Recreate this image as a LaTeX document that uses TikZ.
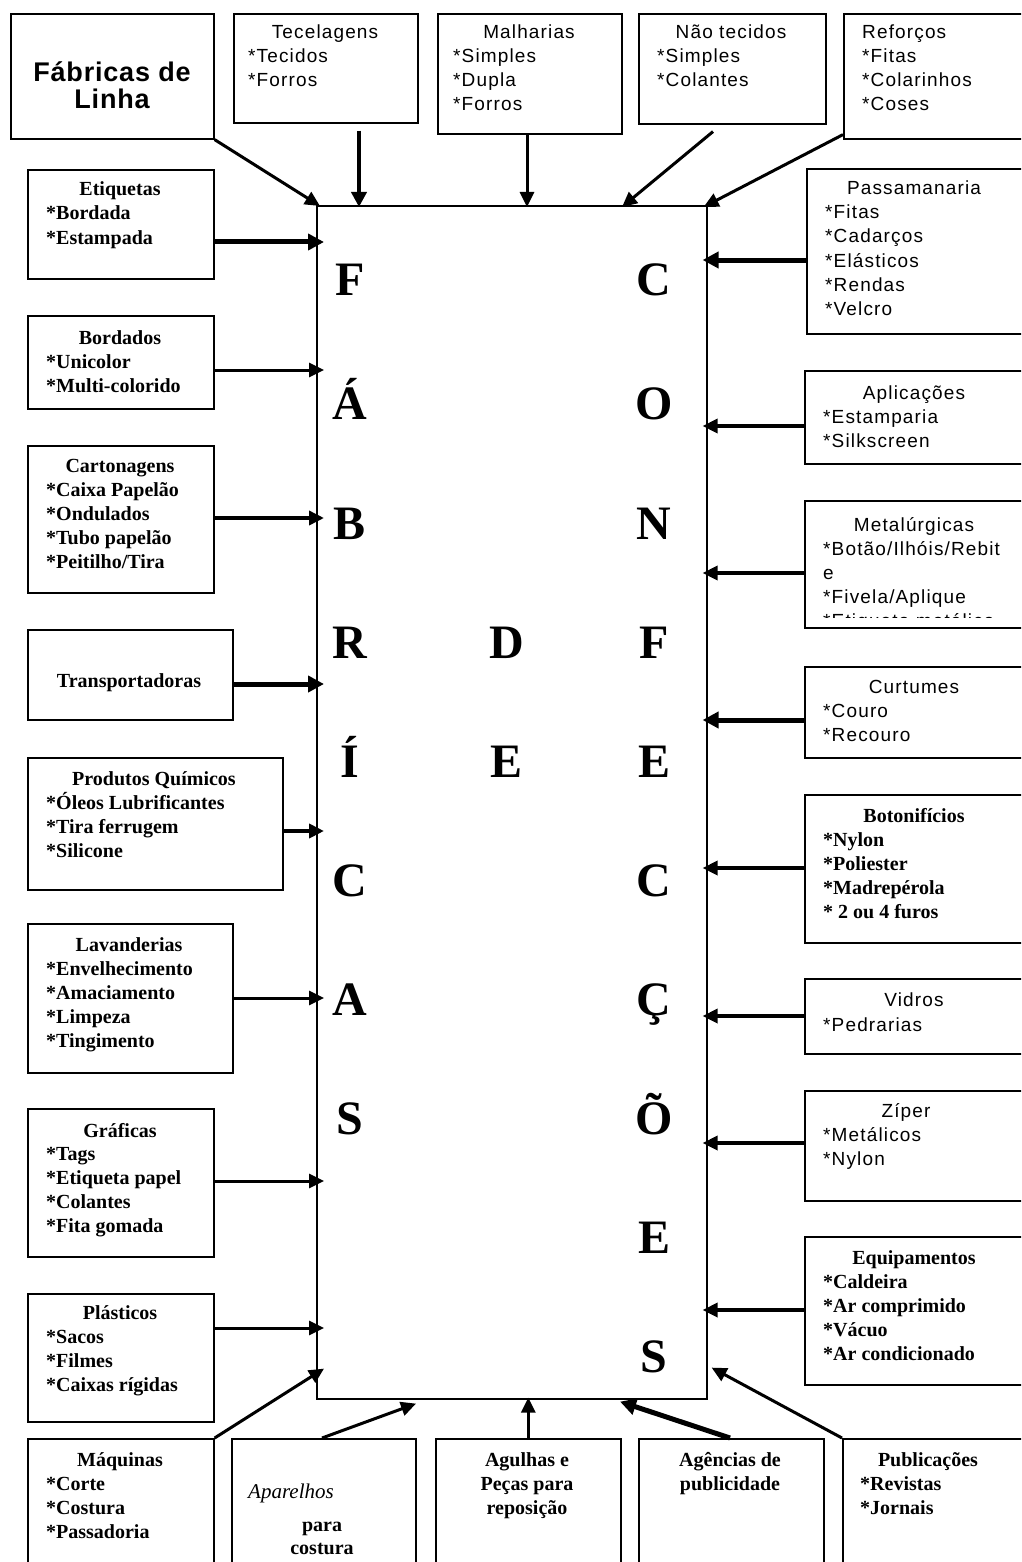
\documentclass[tikz,border=0pt]{standalone}
\usepackage{fontspec}
\setmainfont{Liberation Serif}
\setsansfont{Liberation Sans}
\usetikzlibrary{arrows.meta,calc}
\newcommand\itemlist[5]{\foreach \t [count=\i from 0] in {#5}{\node[#2,anchor=base west] (#1-\i) at (#3,{#4+24*\i}) {\t};}}
\tikzset{
 bx/.style={draw,line width=1.6pt,inner sep=0pt,anchor=north west,fill=white},
 sn/.style={font=\fontsize{19}{24}\selectfont\sffamily\addfontfeature{LetterSpace=6},inner sep=0pt},
 sb/.style={font=\fontsize{20}{24}\selectfont\bfseries,inner sep=0pt},
 bg/.style={font=\fontsize{48}{48}\selectfont\bfseries,inner sep=0pt,anchor=base},
 ar/.style={line width=3pt,-{Triangle[length=15pt,width=14pt]}},
 arm/.style={line width=3.5pt,-{Triangle[length=15pt,width=14pt]}},
 arw/.style={line width=5pt,-{Triangle[length=16pt,width=16pt]}},
}
\begin{document}
\begin{tikzpicture}[x=1pt,y=-1pt]
\useasboundingbox (0,0) rectangle (1021,1562);
\fill[white] (0,0) rectangle (1021,1562);
\clip (0,0) rectangle (1021,1562);

% central rectangle
\node[bx,minimum width=390pt,minimum height=1193pt] (main) at (316,205) {};

% letters
\node[bg] (fa1) at (350,295) {F};
\node[bg] (fa2) at (350,419) {Á};
\node[bg] (fa3) at (350,539) {B};
\node[bg] (fa4) at (350,658) {R};
\node[bg] (fa5) at (350,777) {Í};
\node[bg] (fa6) at (350,896) {C};
\node[bg] (fa7) at (350,1015) {A};
\node[bg] (fa8) at (350,1134) {S};
\node[bg] (de1) at (507,658) {D};
\node[bg] (de2) at (507,777) {E};
\node[bg] (co1) at (654,295) {C};
\node[bg] (co2) at (654,419) {O};
\node[bg] (co3) at (654,539) {N};
\node[bg] (co4) at (654,658) {F};
\node[bg] (co5) at (654,777) {E};
\node[bg] (co6) at (654,896) {C};
\node[bg] (co7) at (654,1015) {Ç};
\node[bg] (co8) at (654,1134) {Õ};
\node[bg] (co9) at (654,1253) {E};
\node[bg] (co10) at (654,1372) {S};

% ---- top row
\node[bx,minimum width=203pt,minimum height=125pt] (fab) at (10,13) {};
\node[font=\fontsize{27}{27}\selectfont\sffamily\bfseries\addfontfeature{LetterSpace=3},inner sep=0pt,anchor=base] (fab-a) at (112,82) {Fábricas de};
\node[font=\fontsize{27}{27}\selectfont\sffamily\bfseries\addfontfeature{LetterSpace=3},inner sep=0pt,anchor=base] (fab-b) at (112,109) {Linha};

\node[bx,minimum width=184pt,minimum height=109pt] (tec) at (233,13) {};
\node[sn,anchor=base] (tec-t) at (325,39) {Tecelagens};
\itemlist{tec}{sn}{248}{63}{*Tecidos,*Forros}

\node[bx,minimum width=184pt,minimum height=120pt] (mal) at (437,13) {};
\node[sn,anchor=base] (mal-t) at (529,39) {Malharias};
\itemlist{mal}{sn}{453}{63}{*Simples,*Dupla,*Forros}

\node[bx,minimum width=187pt,minimum height=110pt] (nao) at (638,13) {};
\node[sn,anchor=base] (nao-t) at (731,39) {Não tecidos};
\itemlist{nao}{sn}{657}{63}{*Simples,*Colantes}

\node[bx,minimum width=200pt,minimum height=125pt] (ref) at (843,13) {};
\node[sn,anchor=base west] (ref-t) at (862,39) {Reforços};
\itemlist{ref}{sn}{862}{63}{*Fitas,*Colarinhos,*Coses}

% ---- left column
\node[bx,minimum width=186pt,minimum height=109pt] (etq) at (27,169) {};
\node[sb,anchor=base] (etq-t) at (120,196) {Etiquetas};
\itemlist{etq}{sb}{46}{220}{*Bordada,*Estampada}

\node[bx,minimum width=186pt,minimum height=93pt] (bor) at (27,315) {};
\node[sb,anchor=base] (bor-t) at (120,344) {Bordados};
\itemlist{bor}{sb}{46}{368}{*Unicolor,*Multi-colorido}

\node[bx,minimum width=186pt,minimum height=147pt] (car) at (27,445) {};
\node[sb,anchor=base] (car-t) at (120,472) {Cartonagens};
\itemlist{car}{sb}{46}{496}{*Caixa Papelão,*Ondulados,*Tubo papelão,*Peitilho/Tira}

\node[bx,minimum width=205pt,minimum height=90pt] (tra) at (27,629) {};
\node[sb,anchor=base] (tra-t) at (129,687) {Transportadoras};

\node[bx,minimum width=255pt,minimum height=132pt] (pro) at (27,757) {};
\node[sb,anchor=base] (pro-t) at (154,785) {Produtos Químicos};
\itemlist{pro}{sb}{46}{809}{*Óleos Lubrificantes,*Tira ferrugem,*Silicone}

\node[bx,minimum width=205pt,minimum height=149pt] (lav) at (27,923) {};
\node[sb,anchor=base] (lav-t) at (129,951) {Lavanderias};
\itemlist{lav}{sb}{46}{975}{*Envelhecimento,*Amaciamento,*Limpeza,*Tingimento}

\node[bx,minimum width=186pt,minimum height=148pt] (gra) at (27,1108) {};
\node[sb,anchor=base] (gra-t) at (120,1137) {Gráficas};
\itemlist{gra}{sb}{46}{1160}{*Tags,*Etiqueta papel,*Colantes,*Fita gomada}

\node[bx,minimum width=186pt,minimum height=128pt] (pla) at (27,1293) {};
\node[sb,anchor=base] (pla-t) at (120,1319) {Plásticos};
\itemlist{pla}{sb}{46}{1343}{*Sacos,*Filmes,*Caixas rígidas}

% ---- bottom row
\node[bx,minimum width=186pt,minimum height=200pt] (maq) at (27,1438) {};
\node[sb,anchor=base] (maq-t) at (120,1466) {Máquinas};
\itemlist{maq}{sb}{46}{1490}{*Corte,*Costura,*Passadoria}

\node[bx,minimum width=184pt,minimum height=200pt] (apa) at (231,1438) {};
\node[font=\fontsize{21}{24}\selectfont\itshape,inner sep=0pt,anchor=base west] (apa-a) at (248,1498) {Aparelhos};
\node[sb,anchor=base] (apa-b) at (322,1531) {para};
\node[sb,anchor=base] (apa-c) at (322,1554) {costura};

\node[bx,minimum width=185pt,minimum height=200pt] (agu) at (435,1438) {};
\node[sb,anchor=base] (agu-a) at (527,1466) {Agulhas e};
\node[sb,anchor=base] (agu-b) at (527,1490) {Peças para};
\node[sb,anchor=base] (agu-c) at (527,1514) {reposição};

\node[bx,minimum width=185pt,minimum height=200pt] (age) at (638,1438) {};
\node[sb,anchor=base] (age-a) at (730,1466) {Agências de};
\node[sb,anchor=base] (age-b) at (730,1490) {publicidade};

\node[bx,minimum width=200pt,minimum height=200pt] (pub) at (842,1438) {};
\node[sb,anchor=base] (pub-t) at (928,1466) {Publicações};
\itemlist{pub}{sb}{860}{1490}{*Revistas,*Jornais}

% ---- right column
\node[bx,minimum width=230pt,minimum height=165pt] (pas) at (806,168) {};
\node[sn,anchor=base] (pas-t) at (914,195) {Passamanaria};
\itemlist{pas}{sn}{825}{219}{*Fitas,*Cadarços,*Elásticos,*Rendas,*Velcro}

\node[bx,minimum width=230pt,minimum height=93pt] (apl) at (804,370) {};
\node[sn,anchor=base] (apl-t) at (914,399) {Aplicações};
\itemlist{apl}{sn}{823}{423}{*Estamparia,*Silkscreen}

\node[bx,minimum width=230pt,minimum height=127pt] (met) at (804,500) {};
\begin{scope}
\clip (804,500) rectangle (1030,617);
\node[sn,anchor=base] (met-t) at (914,531) {Metalúrgicas};
\itemlist{met}{sn}{823}{555}{*Botão/Ilhóis/Rebit,e,*Fivela/Aplique,*Etiqueta metálica}
\end{scope}

\node[bx,minimum width=230pt,minimum height=91pt] (cur) at (804,666) {};
\node[sn,anchor=base] (cur-t) at (914,693) {Curtumes};
\itemlist{cur}{sn}{823}{717}{*Couro,*Recouro}

\node[bx,minimum width=230pt,minimum height=148pt] (bot) at (804,794) {};
\node[sb,anchor=base] (bot-t) at (914,822) {Botonifícios};
\itemlist{bot}{sb}{823}{846}{*Nylon,*Poliester,*Madrepérola,* 2 ou 4 furos}

\node[bx,minimum width=230pt,minimum height=75pt] (vid) at (804,978) {};
\node[sn,anchor=base] (vid-t) at (914,1006) {Vidros};
\itemlist{vid}{sn}{823}{1031}{*Pedrarias}

\node[bx,minimum width=230pt,minimum height=110pt] (zip) at (804,1090) {};
\node[sn,anchor=base] (zip-t) at (906,1117) {Zíper};
\itemlist{zip}{sn}{823}{1141}{*Metálicos,*Nylon}

\node[bx,minimum width=230pt,minimum height=148pt] (equ) at (804,1236) {};
\node[sb,anchor=base] (equ-t) at (914,1264) {Equipamentos};
\itemlist{equ}{sb}{823}{1288}{*Caldeira,*Ar comprimido,*Vácuo,*Ar condicionado}

% ---- arrows: top
\draw[ar] (fab.south east) -- ($(main.north west)+(4,1)$);
\draw[line width=4pt,-{Triangle[length=15pt,width=15pt]},shorten <=7pt,shorten >=-2pt] (tec.south -| 359,0) -- (main.north -| 359,0);
\draw[ar,shorten >=-2pt] (mal.south -| 527,0) -- (main.north -| 527,0);
\draw[ar] ($(nao.south west)+(75,7)$) -- ($(main.north west)+(306,2)$);
\draw[ar] ($(ref.south west)+(0,-5)$) -- ($(main.north east)+(-4,2)$);

% ---- arrows: left
\draw[arw,shorten >=-8pt] (etq.east |- 0,242) -- (main.west |- 0,242);
\draw[ar,shorten >=-8pt] (bor.east |- 0,370) -- (main.west |- 0,370);
\draw[arm,shorten >=-8pt] (car.east |- 0,518) -- (main.west |- 0,518);
\draw[arw,shorten >=-8pt] (tra.east |- 0,684) -- (main.west |- 0,684);
\draw[line width=4pt,-{Triangle[length=15pt,width=14pt]},shorten >=-8pt] (pro.east |- 0,831) -- (main.west |- 0,831);
\draw[ar,shorten >=-8pt] (lav.east |- 0,998) -- (main.west |- 0,998);
\draw[ar,shorten >=-8pt] (gra.east |- 0,1181) -- (main.west |- 0,1181);
\draw[ar,shorten >=-8pt] (pla.east |- 0,1328) -- (main.west |- 0,1328);

% ---- arrows: bottom
\draw[ar] (maq.north east) -- ($(main.south west)+(8,-31)$);
\draw[ar] ($(apa.north west)+(91,0)$) -- ($(main.south west)+(100,4)$);
\draw[ar,shorten >=-2pt] (agu.north) -- (main.south -| agu.north);
\draw[arw] ($(age.north west)+(92,0)$) -- ($(main.south west)+(304,2)$);
\draw[ar] (pub.north west) -- ($(main.south east)+(4,-32)$);

% ---- arrows: right
\draw[arw,shorten >=-5pt] (pas.west |- 0,260) -- (main.east |- 0,260);
\draw[arm,shorten >=-5pt] (apl.west |- 0,426) -- (main.east |- 0,426);
\draw[arm,shorten >=-5pt] (met.west |- 0,573) -- (main.east |- 0,573);
\draw[arw,shorten >=-5pt] (cur.west |- 0,720) -- (main.east |- 0,720);
\draw[arm,shorten >=-5pt] (bot.west |- 0,868) -- (main.east |- 0,868);
\draw[arm,shorten >=-5pt] (vid.west |- 0,1016) -- (main.east |- 0,1016);
\draw[arm,shorten >=-5pt] (zip.west |- 0,1143) -- (main.east |- 0,1143);
\draw[arm,shorten >=-5pt] (equ.west |- 0,1310) -- (main.east |- 0,1310);
\end{tikzpicture}
\end{document}
